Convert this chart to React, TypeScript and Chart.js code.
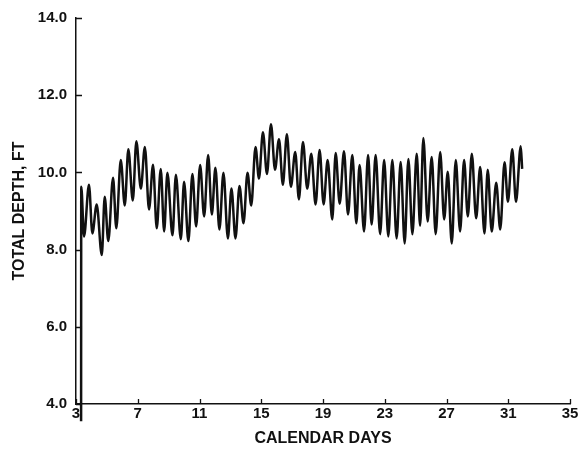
import React, { useEffect, useRef } from "react";
import { Chart, registerables } from "chart.js";

Chart.register(...registerables);

// Calendar day of each turning point of the depth record
const days: number[] = [
  3.33, 3.34, 3.52, 3.84, 4.06, 4.34, 4.67, 4.86, 5.09, 5.40, 5.61, 5.90, 6.16, 6.39, 6.68,
  6.91, 7.20, 7.46, 7.73, 7.99, 8.23, 8.49, 8.71, 8.92, 9.25, 9.47, 9.79, 10.00, 10.28,
  10.54, 10.78, 11.04, 11.30, 11.56, 11.80, 12.03, 12.29, 12.55, 12.84, 13.07, 13.33,
  13.59, 13.85, 14.11, 14.35, 14.63, 14.85, 15.11, 15.37, 15.63, 15.89, 16.15, 16.40,
  16.66, 16.92, 17.20, 17.44, 17.70, 17.98, 18.24, 18.52, 18.78, 19.04, 19.30, 19.60,
  19.82, 20.08, 20.36, 20.62, 20.90, 21.16, 21.37, 21.66, 21.92, 22.15, 22.41, 22.70,
  22.96, 23.23, 23.49, 23.77, 24.03, 24.29, 24.53, 24.79, 25.07, 25.29, 25.50, 25.78,
  26.04, 26.30, 26.59, 26.85, 27.08, 27.34, 27.60, 27.88, 28.14, 28.38, 28.64, 28.92,
  29.18, 29.46, 29.67, 29.93, 30.22, 30.48, 30.76, 30.98, 31.26, 31.50, 31.81, 31.90,
];

// Total depth (ft) at those turning points
const depths: number[] = [
  3.55, 9.63, 8.34, 9.68, 8.42, 9.17, 7.86, 9.37, 8.22, 9.86, 8.55, 10.32, 9.14, 10.6, 9.27,
  10.81, 9.58, 10.66, 9.04, 10.2, 8.55, 10.09, 8.47, 9.99, 8.37, 9.94, 8.27, 9.76, 8.22,
  9.96, 8.6, 10.19, 8.86, 10.45, 8.91, 10.12, 8.52, 9.99, 8.29, 9.58, 8.29,
  9.65, 8.68, 9.99, 9.14, 10.66, 9.84, 11.04, 9.96, 11.25, 10.07, 10.86, 9.68,
  10.99, 9.63, 10.53, 9.3, 10.79, 9.58, 10.48, 9.17, 10.58, 9.17, 10.32, 8.78,
  10.5, 9.19, 10.55, 8.91, 10.45, 8.68, 10.19, 8.47, 10.45, 8.65, 10.45, 8.4,
  10.32, 8.34, 10.32, 8.29, 10.27, 8.16, 10.35, 8.4, 10.48, 8.62, 10.89, 8.73,
  10.4, 8.4, 10.53, 8.78, 10.02, 8.16, 10.32, 8.47, 10.32, 8.86, 10.48, 8.81,
  10.14, 8.42, 10.07, 8.47, 9.73, 8.52, 10.26, 9.24, 10.6, 9.24, 10.68, 10.09,
];

const xTicks: number[] = [3, 7, 11, 15, 19, 23, 27, 31, 35];
const yTicks: number[] = [4, 6, 8, 10, 12, 14];

const xTitle = "CALENDAR DAYS";
const yTitle = "TOTAL DEPTH, FT";

const FONT = "'Liberation Sans', Arial, Helvetica, sans-serif";

const inwardTicks = {
  id: "inwardTicks",
  afterDraw(chart: any) {
    const ctx = chart.ctx;
    const xs = chart.scales.x;
    const ys = chart.scales.y;
    const area = chart.chartArea;
    ctx.save();
    ctx.strokeStyle = "#111";
    ctx.lineWidth = 1.3;
    ctx.beginPath();
    yTicks.forEach((v) => {
      const py = Math.round(ys.getPixelForValue(v)) + 0.5;
      ctx.moveTo(area.left, py);
      ctx.lineTo(area.left + 6, py);
    });
    xTicks.forEach((v) => {
      const px = Math.round(xs.getPixelForValue(v)) + 0.5;
      ctx.moveTo(px, area.bottom);
      ctx.lineTo(px, area.bottom - 5);
    });
    ctx.stroke();
    ctx.restore();
  },
};

export default function App() {
  const ref = useRef<HTMLCanvasElement | null>(null);

  useEffect(() => {
    if (!ref.current) return;
    const points = days.map((d, i) => ({ x: d, y: depths[i] }));
    const chart = new Chart(ref.current, {
      type: "line",
      data: {
        datasets: [
          {
            data: points,
            borderColor: "#111",
            borderWidth: 2.5,
            pointRadius: 0,
            cubicInterpolationMode: "monotone",
            fill: false,
            clip: false as any,
          },
        ],
      },
      options: {
        responsive: false,
        animation: false,
        events: [],
        layout: { padding: { left: 0, top: 15, right: 11, bottom: 0 } },
        plugins: { legend: { display: false }, tooltip: { enabled: false } },
        scales: {
          x: {
            type: "linear",
            min: 3,
            max: 35,
            afterBuildTicks: (s: any) => {
              s.ticks = xTicks.map((v) => ({ value: v }));
            },
            afterFit: (s: any) => {
              s.height = 48;
            },
            grid: { display: true, drawOnChartArea: false, drawTicks: false },
            border: { display: true, color: "#111", width: 1.5 },
            ticks: {
              padding: 1,
              color: "#111",
              font: { family: FONT, size: 15, weight: "bold" },
              callback: (v: any) => String(v),
            },
            title: {
              display: true,
              text: xTitle,
              color: "#111",
              font: { family: FONT, size: 16, weight: "bold" },
              padding: { top: 0, bottom: 4 },
            },
          },
          y: {
            type: "linear",
            min: 4,
            max: 14,
            afterBuildTicks: (s: any) => {
              s.ticks = yTicks.map((v) => ({ value: v }));
            },
            afterFit: (s: any) => {
              s.width = 76;
            },
            grid: { display: true, drawOnChartArea: false, drawTicks: false },
            border: { display: true, color: "#111", width: 1.5 },
            ticks: {
              padding: 9,
              color: "#111",
              font: { family: FONT, size: 15, weight: "bold" },
              callback: (v: any) => Number(v).toFixed(1),
            },
            title: {
              display: true,
              text: yTitle,
              color: "#111",
              font: { family: FONT, size: 16, weight: "bold" },
              padding: { top: 10, bottom: 0 },
            },
          },
        },
      },
      plugins: [inwardTicks],
    });
    return () => chart.destroy();
  }, []);

  return (
    <div style={{ position: "fixed", left: 0, top: 0, width: 581, height: 452, background: "#fff" }}>
      <canvas ref={ref} width={581} height={452} style={{ display: "block" }} />
    </div>
  );
}
